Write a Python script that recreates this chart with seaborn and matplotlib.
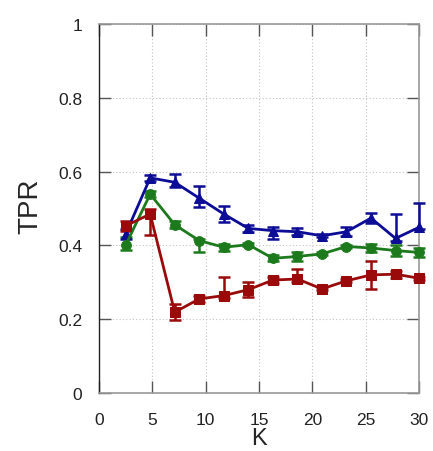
import numpy as np
import pandas as pd
import matplotlib
matplotlib.use("Agg")
import matplotlib.pyplot as plt
import seaborn as sns

# Neighbourhood size K and true-positive rate for the three methods
k_values = [2.5, 4.8, 7.1, 9.4, 11.7, 14.0, 16.3, 18.6, 20.9, 23.2, 25.5, 27.8, 30.0]

tpr_blue = [0.431, 0.583, 0.571, 0.528, 0.485, 0.446, 0.440, 0.437, 0.426, 0.437, 0.474, 0.419, 0.449]
err_blue_lo = [0.013, 0.008, 0.012, 0.023, 0.022, 0.010, 0.023, 0.010, 0.004, 0.012, 0.012, 0.007, 0.004]
err_blue_hi = [0.013, 0.008, 0.022, 0.033, 0.022, 0.010, 0.010, 0.010, 0.004, 0.014, 0.013, 0.065, 0.066]

tpr_green = [0.401, 0.539, 0.456, 0.413, 0.395, 0.402, 0.365, 0.370, 0.377, 0.397, 0.393, 0.386, 0.381]
err_green_lo = [0.013, 0.009, 0.010, 0.030, 0.010, 0.004, 0.008, 0.013, 0.004, 0.004, 0.011, 0.016, 0.013]
err_green_hi = [0.022, 0.009, 0.010, 0.005, 0.010, 0.004, 0.008, 0.013, 0.004, 0.004, 0.011, 0.016, 0.013]

tpr_red = [0.453, 0.485, 0.219, 0.255, 0.264, 0.280, 0.306, 0.309, 0.282, 0.304, 0.320, 0.322, 0.311]
err_red_lo = [0.013, 0.058, 0.022, 0.008, 0.007, 0.020, 0.008, 0.009, 0.004, 0.004, 0.037, 0.009, 0.004]
err_red_hi = [0.013, 0.014, 0.022, 0.008, 0.050, 0.020, 0.008, 0.027, 0.004, 0.004, 0.037, 0.009, 0.004]

x_ticks = [0, 5, 10, 15, 20, 25, 30]
y_ticks = [0, 0.2, 0.4, 0.6, 0.8, 1.0]
y_tick_labels = ["0", "0.2", "0.4", "0.6", "0.8", "1"]

sns.set_style("white")
plt.rcParams["font.family"] = ["Liberation Sans", "DejaVu Sans"]

fig = plt.figure(figsize=(4.33, 4.52), dpi=100)
ax = fig.add_axes([99 / 433, 1 - 394 / 452, 320 / 433, 369 / 452])

series = [
    ("blue", tpr_blue, err_blue_lo, err_blue_hi, "#0c0c96", "^"),
    ("green", tpr_green, err_green_lo, err_green_hi, "#1c7a1c", "o"),
    ("red", tpr_red, err_red_lo, err_red_hi, "#9a0a0a", "s"),
]

for name, vals, lo, hi, color, marker in series:
    df = pd.DataFrame({"K": k_values, "TPR": vals})
    ax.errorbar(k_values, vals, yerr=[lo, hi], fmt="none", ecolor=color,
                elinewidth=1.8, capsize=4.5, capthick=1.8, zorder=3, clip_on=False)
    sns.lineplot(data=df, x="K", y="TPR", ax=ax, color=color, marker=marker,
                 markersize=7, markeredgecolor=color, linewidth=2.0,
                 zorder=4, clip_on=False)

ax.set_xlim(0, 30)
ax.set_ylim(0, 1)
ax.set_xticks(x_ticks)
ax.set_yticks(y_ticks)
ax.set_yticklabels(y_tick_labels)

ax.grid(True, linestyle=(0, (1, 2)), color="#c4c4c4", linewidth=0.8)
ax.tick_params(axis="both", direction="in", length=8.5, width=1, color="#555555",
               labelsize=12.5, labelcolor="#222222",
               top=True, right=True, bottom=True, left=True)
ax.tick_params(axis="x", pad=14)
ax.tick_params(axis="y", pad=12)

for side in ["top", "bottom", "right"]:
    ax.spines[side].set_color("#999999")
    ax.spines[side].set_linewidth(1.2)
ax.spines["left"].set_color("#222222")
ax.spines["left"].set_linewidth(1.0)

ax.set_xlabel("K", fontsize=17, va="bottom")
ax.xaxis.set_label_coords(0.5, -(450 - 394) / 369)
ax.set_ylabel("TPR", fontsize=20, va="center")
ax.yaxis.set_label_coords((30 - 99) / 320, 0.51)

fig.savefig("out.png", dpi=100)
